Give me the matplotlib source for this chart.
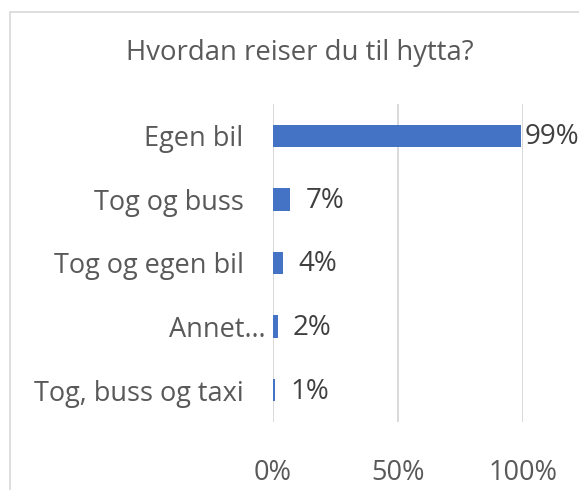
import matplotlib.pyplot as plt
import matplotlib.transforms as mtransforms
from matplotlib.patches import Rectangle

plt.rcParams['font.family'] = ['Open Sans', 'DejaVu Sans']

categories = ["Egen bil", "Tog og buss", "Tog og egen bil", "Annet…", "Tog, buss og taxi"]
values = [0.99, 0.07, 0.04, 0.02, 0.01]
value_labels = ["99%", "7%", "4%", "2%", "1%"]
x_ticks = [0, 0.5, 1.0]
x_tick_labels = ["0%", "50%", "100%"]
title = "Hvordan reiser du til hytta?"

bar_color = "#4472C4"
grid_color = "#D9D9D9"
text_gray = "#595959"
label_dark = "#404040"

fig = plt.figure(figsize=(5.79, 4.90), dpi=100)
ax = fig.add_axes([0.471, 0.1388, 0.4323, 0.649])

# chart border (cut off at right and bottom like the reference)
fig.patches.append(Rectangle((10 / 579, -0.5), 2.0, (490 - 12) / 490 + 0.5,
                             transform=fig.transFigure, fill=False,
                             edgecolor=grid_color, linewidth=1.2, zorder=0))

y = list(range(len(categories)))
ax.barh(y, values, height=0.35, color=bar_color, zorder=3)

for yi, v, lab in zip(y, values, value_labels):
    off = 3 if v > 0.9 else 11
    ax.annotate(lab, (v, yi), xytext=(off, -1), textcoords="offset points",
                va="center", ha="left", fontsize=20, color=label_dark)

ax.set_xlim(0, 1)
ax.set_ylim(len(categories) - 0.5, -0.5)
ax.set_xticks(x_ticks)
ax.set_xticklabels(x_tick_labels)
ax.set_yticks(y)
ax.set_yticklabels(categories)
ax.tick_params(axis="x", length=0, pad=27, labelsize=19.5, labelcolor=text_gray)
ax.tick_params(axis="y", length=0, pad=21, labelsize=19.5, labelcolor=text_gray)

# Excel places the truncated label closer to the axis
for tl in ax.get_yticklabels():
    if tl.get_text().endswith("…"):
        tl.set_transform(tl.get_transform() + mtransforms.ScaledTranslation(16 / 72, 0, fig.dpi_scale_trans))

ax.grid(axis="x", color=grid_color, linewidth=1.4, zorder=0)
ax.set_axisbelow(True)
for s in ax.spines.values():
    s.set_visible(False)

fig.text(300 / 579, (490 - 53) / 490, title, ha="center", va="center",
         fontsize=19.8, color=text_gray)

fig.savefig("out.png", dpi=100)
